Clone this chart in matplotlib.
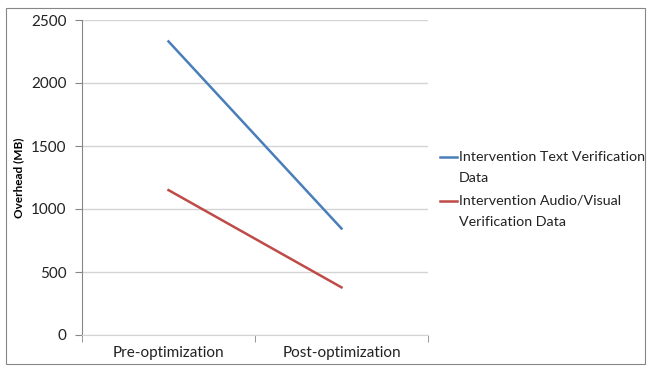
import matplotlib
matplotlib.use("Agg")
import matplotlib.pyplot as plt
from matplotlib.patches import Rectangle
from matplotlib.lines import Line2D

categories = ["Pre-optimization", "Post-optimization"]
text_data = [2330, 845]
av_data = [1150, 378]
series_names = ["Intervention Text Verification\nData",
                "Intervention Audio/Visual\nVerification Data"]
series_colors = ["#4a7ebb", "#be4b48"]
yticks = [0, 500, 1000, 1500, 2000, 2500]

plt.rcParams['font.family'] = ['Lato', 'DejaVu Sans']

W, H = 652, 371
fig = plt.figure(figsize=(W / 100, H / 100), dpi=100)
ax = fig.add_axes([82 / W, 36 / H, 346 / W, 315 / H])

x = [0.5, 1.5]
ax.plot(x, text_data, color=series_colors[0], lw=1.8)
ax.plot(x, av_data, color=series_colors[1], lw=1.8)

ax.set_xlim(0, 2)
ax.set_ylim(0, 2500)
ax.set_yticks(yticks)
ax.set_yticklabels([str(v) for v in yticks], fontsize=11, color="#222222")
ax.set_xticks(x)
ax.set_xticklabels(categories, fontsize=11, color="#222222")
ax.set_xticks([0, 1, 2], minor=True)
ax.tick_params(axis="x", which="major", length=0, pad=8)
ax.tick_params(axis="x", which="minor", length=5, color="#868686")
ax.tick_params(axis="y", length=5, color="#868686", pad=6)

ax.grid(axis="y", color="#d4d4d4", lw=1)
ax.set_axisbelow(True)
for s in ["top", "right"]:
    ax.spines[s].set_visible(False)
ax.spines["left"].set_color("#868686")
ax.spines["bottom"].set_color("#d4d4d4")

ax.set_ylabel("Overhead (MB)", fontsize=8.5, fontweight="bold", labelpad=5)

# legend drawn by hand so the key line sits on the first text line
for i, (name, col) in enumerate(zip(series_names, series_colors)):
    yc = 157 + i * 44
    fig.lines.append(Line2D([440 / W, 457 / W], [1 - yc / H, 1 - yc / H],
                            transform=fig.transFigure, color=col, lw=1.8))
    fig.text(459 / W, 1 - (yc - 6) / H, name, fontsize=10.3, va="top",
             ha="left", linespacing=1.9, color="#222222")

fig.patches.append(Rectangle((6 / W, 7 / H), 639 / W, 356 / H,
                             transform=fig.transFigure, fill=False,
                             edgecolor="#868686", lw=0.8))

fig.savefig("out.png", dpi=100)
